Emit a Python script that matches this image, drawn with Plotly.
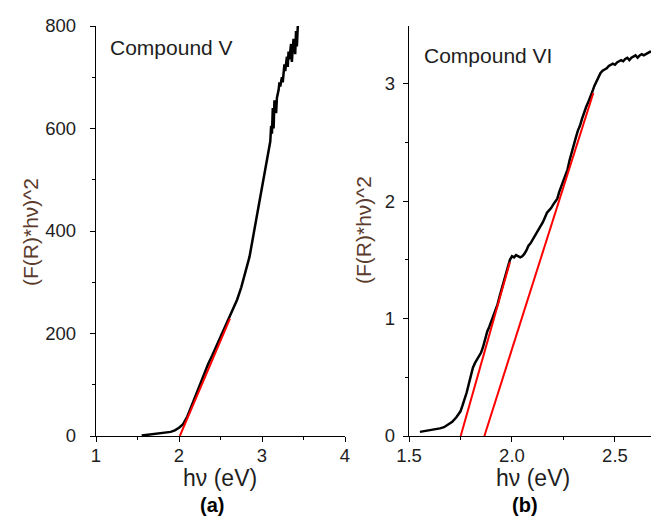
import plotly.graph_objects as go

# ---- Panel (a): Compound V ----
a_x = [1.55, 1.60, 1.65, 1.70, 1.75, 1.80, 1.85, 1.90, 1.95, 2.00, 2.05, 2.10, 2.15, 2.20,
       2.25, 2.30, 2.35, 2.40, 2.45, 2.50, 2.55, 2.60, 2.65, 2.70, 2.75, 2.80, 2.85, 2.90,
       2.95, 3.00, 3.05, 3.08, 3.10, 3.11, 3.12, 3.13, 3.14, 3.15, 3.17, 3.18, 3.20, 3.21,
       3.22, 3.24, 3.25, 3.27, 3.28, 3.30, 3.31, 3.32, 3.33, 3.35, 3.36, 3.37, 3.38, 3.40,
       3.41, 3.42, 3.43, 3.44]
a_y = [1, 2, 3, 4, 4, 5, 6, 8, 11, 16, 23, 38, 58, 79,
       100, 120, 140, 157, 175, 193, 211, 229, 248, 266, 290, 318, 350, 395,
       440, 488, 530, 555, 575, 605, 590, 640, 600, 655, 630, 660, 675, 690,
       682, 700, 690, 725, 712, 740, 720, 750, 735, 765, 730, 755, 775, 745,
       790, 760, 805, 830]
a_fit_x = [2.01, 2.614]
a_fit_y = [0, 229]

# ---- Panel (b): Compound VI ----
b_x = [1.553, 1.57, 1.59, 1.61, 1.63, 1.65, 1.67, 1.69, 1.71, 1.73, 1.75, 1.76, 1.77, 1.78,
       1.79, 1.80, 1.81, 1.82, 1.83, 1.84, 1.85, 1.86, 1.87, 1.88, 1.89, 1.90, 1.91, 1.92,
       1.93, 1.94, 1.95, 1.96, 1.97, 1.98, 1.99, 2.00, 2.01, 2.02, 2.03, 2.04, 2.05, 2.06,
       2.07, 2.08, 2.09, 2.10, 2.11, 2.12, 2.13, 2.14, 2.15, 2.16, 2.17, 2.18, 2.19, 2.20,
       2.21, 2.22, 2.23, 2.24, 2.25, 2.26, 2.27, 2.28, 2.29, 2.30, 2.31, 2.32, 2.33, 2.34,
       2.35, 2.36, 2.37, 2.38, 2.39, 2.40, 2.41, 2.42, 2.43, 2.44, 2.45, 2.46, 2.47, 2.48,
       2.49, 2.50, 2.51, 2.52, 2.53, 2.54, 2.55, 2.56, 2.57, 2.58, 2.59, 2.60, 2.61, 2.62,
       2.63, 2.64, 2.65, 2.66, 2.67, 2.68]
b_y = [0.035, 0.040, 0.045, 0.050, 0.055, 0.065, 0.075, 0.095, 0.12, 0.16, 0.21, 0.26, 0.31, 0.37,
       0.44, 0.52, 0.58, 0.62, 0.65, 0.68, 0.71, 0.76, 0.83, 0.89, 0.93, 0.98, 1.03, 1.08,
       1.12, 1.19, 1.25, 1.31, 1.38, 1.45, 1.50, 1.53, 1.52, 1.54, 1.53, 1.52, 1.53, 1.55,
       1.58, 1.62, 1.64, 1.67, 1.69, 1.72, 1.75, 1.78, 1.82, 1.86, 1.90, 1.92, 1.94, 1.97,
       2.00, 2.02, 2.08, 2.13, 2.18, 2.22, 2.27, 2.35, 2.42, 2.48, 2.54, 2.60, 2.64, 2.70,
       2.76, 2.80, 2.84, 2.88, 2.93, 2.98, 3.02, 3.06, 3.09, 3.11, 3.12, 3.13, 3.15, 3.16,
       3.17, 3.16, 3.18, 3.19, 3.20, 3.19, 3.21, 3.22, 3.20, 3.22, 3.23, 3.24, 3.22, 3.24,
       3.25, 3.24, 3.25, 3.26, 3.27, 3.27]
b_fit1_x = [1.751, 1.99]
b_fit1_y = [0, 1.48]
b_fit2_x = [1.866, 2.395]
b_fit2_y = [0, 2.92]

W, H = 651, 519
FONT = "Arial, Liberation Sans, sans-serif"
TICK = dict(family=FONT, size=18.5, color="#1e1e1e")
TITLE_COLOR = "#5a3b2c"

fig = go.Figure()
fig.add_trace(go.Scatter(x=a_x, y=a_y, mode="lines", line=dict(color="black", width=2.5),
                         xaxis="x", yaxis="y", showlegend=False))
fig.add_trace(go.Scatter(x=a_fit_x, y=a_fit_y, mode="lines", line=dict(color="#ff0000", width=2),
                         xaxis="x", yaxis="y", showlegend=False))
fig.add_trace(go.Scatter(x=b_x, y=b_y, mode="lines", line=dict(color="black", width=2.5),
                         xaxis="x2", yaxis="y2", showlegend=False))
fig.add_trace(go.Scatter(x=b_fit1_x, y=b_fit1_y, mode="lines", line=dict(color="#ff0000", width=2),
                         xaxis="x2", yaxis="y2", showlegend=False))
fig.add_trace(go.Scatter(x=b_fit2_x, y=b_fit2_y, mode="lines", line=dict(color="#ff0000", width=2),
                         xaxis="x2", yaxis="y2", showlegend=False))

ydom = [(H - 436) / H, (H - 26) / H]
common = dict(showline=True, linecolor="black", linewidth=1.3, ticks="outside", ticklen=5,
              tickwidth=1.2, tickcolor="black", showgrid=False, zeroline=False,
              tickfont=TICK, mirror=False, automargin=False)

fig.update_layout(
    width=W, height=H, margin=dict(l=0, r=0, t=0, b=0),
    paper_bgcolor="white", plot_bgcolor="white",
    xaxis=dict(domain=[96 / W, 345 / W], range=[1, 4], dtick=1, anchor="y",
               ticklabelstandoff=-2,
               minor=dict(ticks="outside", ticklen=3, dtick=0.5, tickcolor="black"), **common),
    yaxis=dict(domain=ydom, range=[0, 800], dtick=200, anchor="x",
               ticklabelstandoff=10,
               minor=dict(ticks="outside", ticklen=3, dtick=100, tickcolor="black"), **common),
    xaxis2=dict(domain=[409 / W, 1.0], range=[1.5, 2.675], dtick=0.5, tickformat=".1f",
                anchor="y2", ticklabelstandoff=-2,
                minor=dict(ticks="outside", ticklen=3, dtick=0.25, tickcolor="black"), **common),
    yaxis2=dict(domain=ydom, range=[0, 3.49], dtick=1, anchor="x2",
                ticklabelstandoff=4,
                minor=dict(ticks="outside", ticklen=3, dtick=0.5, tickcolor="black"), **common),
)

def ann(text, x, y, size, color="#1e1e1e", xanchor="center", angle=0, bold=False):
    fig.add_annotation(text=f"<b>{text}</b>" if bold else text, x=x / W, y=1 - y / H,
                       xref="paper", yref="paper", showarrow=False, xanchor=xanchor,
                       yanchor="middle", textangle=angle,
                       font=dict(family=FONT, size=size, color=color))

ann("Compound V", 108, 48, 21, xanchor="left")
ann("Compound VI", 422, 56, 21, xanchor="left")
ann("hν (eV)", 220, 478, 23)
ann("hν (eV)", 533, 478, 23)
ann("(a)", 212, 505, 20, bold=True, color="black")
ann("(b)", 525, 505, 20, bold=True, color="black")
ann("(F(R)*hν)^2", 30, 232, 21, color=TITLE_COLOR, angle=-90)
ann("(F(R)*hν)^2", 363, 230, 21, color=TITLE_COLOR, angle=-90)

fig.write_html("out.html", config={"displayModeBar": False},
               post_script=["document.body.style.margin='0px';"])
